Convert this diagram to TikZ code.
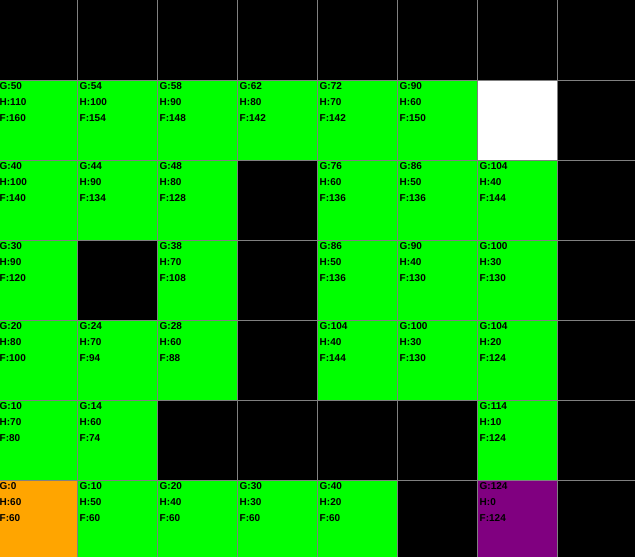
\documentclass[tikz,border=0pt]{standalone}
\usepackage{fontspec}
\setmainfont{Liberation Sans}
\usepackage{xcolor}
\usepackage{tikz}
\usetikzlibrary{positioning}
\definecolor{opengreen}{HTML}{00FF00}
\definecolor{startorange}{HTML}{FFA500}
\definecolor{goalpurple}{HTML}{800080}
\definecolor{gridgray}{HTML}{808080}

\begin{document}
\begin{tikzpicture}[x=1pt,y=-1pt]
  % A* search grid -- 80px cells, G/H/F score per visited cell
  \def\cw{80}            % cell size
  \def\xo{-2}            % x offset of column 0
  \tikzset{score/.style={font=\fontsize{10}{12}\selectfont\bfseries,
    anchor=base west, inner sep=0pt}}
  \useasboundingbox (0,0) rectangle (635,557);
  % --- Walls (background) ---
  \fill[black] (0,0) rectangle (635,557);
  % --- Scored cells: column/row/colour/G/H/F ---
  \foreach \c/\r/\col/\g/\h/\f in {
      0/1/opengreen/50/110/160, 1/1/opengreen/54/100/154,
      2/1/opengreen/58/90/148,  3/1/opengreen/62/80/142,
      4/1/opengreen/72/70/142,  5/1/opengreen/90/60/150,
      0/2/opengreen/40/100/140, 1/2/opengreen/44/90/134,
      2/2/opengreen/48/80/128,  4/2/opengreen/76/60/136,
      5/2/opengreen/86/50/136,  6/2/opengreen/104/40/144,
      0/3/opengreen/30/90/120,  2/3/opengreen/38/70/108,
      4/3/opengreen/86/50/136,  5/3/opengreen/90/40/130,
      6/3/opengreen/100/30/130,
      0/4/opengreen/20/80/100,  1/4/opengreen/24/70/94,
      2/4/opengreen/28/60/88,   4/4/opengreen/104/40/144,
      5/4/opengreen/100/30/130, 6/4/opengreen/104/20/124,
      0/5/opengreen/10/70/80,   1/5/opengreen/14/60/74,
      6/5/opengreen/114/10/124,
      0/6/startorange/0/60/60,  1/6/opengreen/10/50/60,
      2/6/opengreen/20/40/60,   3/6/opengreen/30/30/60,
      4/6/opengreen/40/20/60,   6/6/goalpurple/124/0/124} {
    \pgfmathsetmacro{\xl}{\xo+\c*\cw}
    \pgfmathsetmacro{\yt}{\r*\cw}
    \fill[\col] (\xl,\yt) rectangle (\xl+\cw,\yt+\cw);
    \node[score] (g-\c-\r) at (\xl+1.5,\yt+9.5) {G:\g};
    \node[score] (h-\c-\r) at (\xl+1.5,\yt+25.5) {H:\h};
    \node[score] (f-\c-\r) at (\xl+1.5,\yt+41.5) {F:\f};
  }
  % --- Empty open cell ---
  \fill[white] (\xo+6*\cw,\cw) rectangle (\xo+7*\cw,2*\cw);
  % --- Grid lines ---
  \foreach \k in {1,...,7}
    \draw[gridgray,line width=1pt] (\xo+\k*\cw-0.5,0) -- (\xo+\k*\cw-0.5,557);
  \foreach \k in {1,...,6}
    \draw[gridgray,line width=1pt] (0,\k*\cw+0.5) -- (635,\k*\cw+0.5);
\end{tikzpicture}
\end{document}
